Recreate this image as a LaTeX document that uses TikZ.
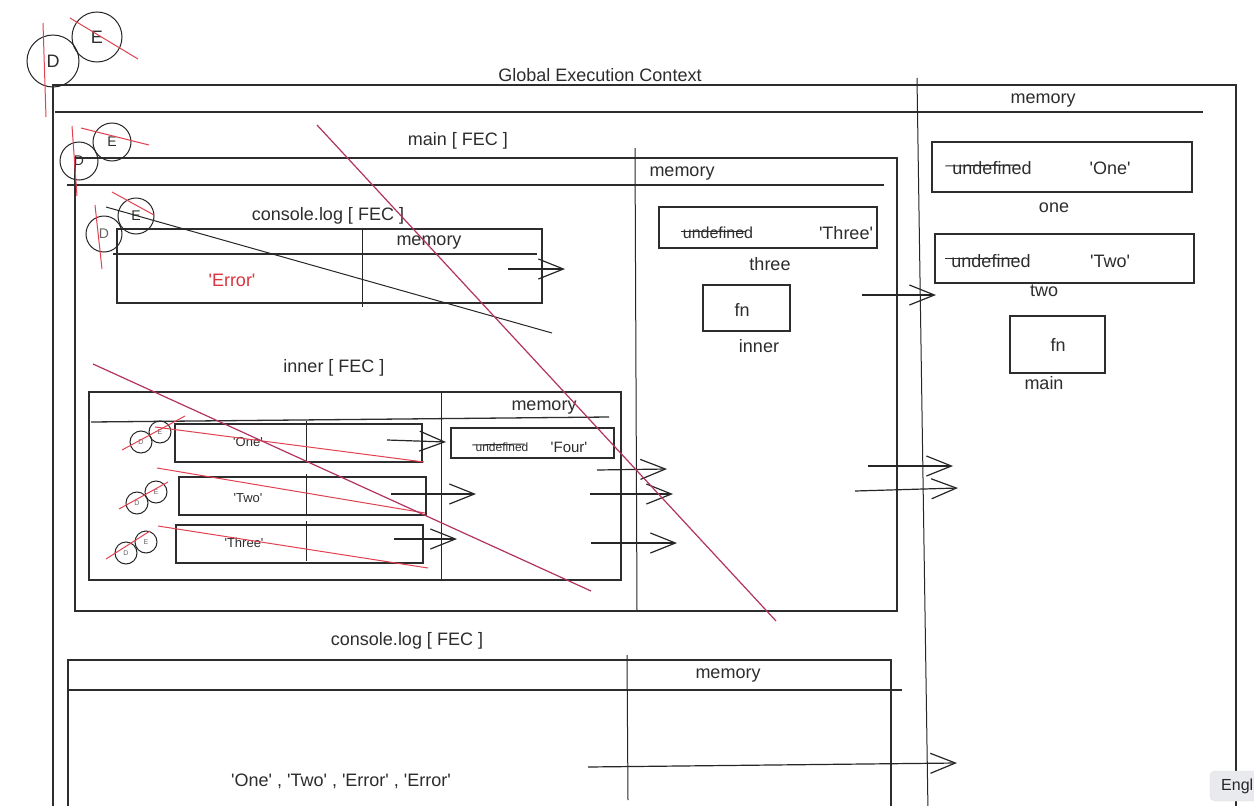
\documentclass[tikz,border=0pt]{standalone}
\usepackage{fontspec}
\setmainfont{Liberation Sans}[Ligatures=TeXOff]
\usetikzlibrary{arrows.meta}
\definecolor{ink}{RGB}{45,45,45}
\definecolor{redline}{RGB}{226,66,80}
\definecolor{crimson}{RGB}{178,50,98}
\definecolor{errred}{RGB}{218,52,62}
\definecolor{btn}{RGB}{232,234,237}
\newcommand\sizept[1]{\fontsize{#1}{#1}\selectfont}
\tikzset{
  box/.style={draw=ink,line width=1.3pt},
  rule/.style={draw=black!85,line width=1pt},
  lbl/.style={inner sep=0pt,text=ink,font=\sizept{18}},
  small/.style={inner sep=0pt,text=ink,font=\sizept{13}},
  dec/.style={circle,draw=black!85,line width=1pt,inner sep=0pt,text=ink},
  redstroke/.style={draw=redline,line width=1pt},
  crim/.style={draw=crimson,line width=1.2pt},
  barrow/.style={draw=black!85,line width=1.2pt,-{Straight Barb[length=25pt,width=20pt,line width=1.2pt]}},
  strike/.style={draw=ink,line width=1pt}
}
\begin{document}
\begin{tikzpicture}[x=1pt,y=-1pt]
\useasboundingbox (0,0) rectangle (1254,806);
\clip (0,0) rectangle (1254,806);
\fill[white] (0,0) rectangle (1254,806);

% ---------- Global Execution Context ----------
\draw[box] (53,812) -- (53,85) -- (1236,85) -- (1236,812);
\draw[box] (55,112) -- (1203,112);
\draw[rule] (917,78) -- (928,812);
\node[lbl] (gec) at (600,75) {Global Execution Context};
\node[lbl] (gmem) at (1043,101) {memory};

\node[dec,minimum size=52pt,font=\sizept{18}] (gD) at (53,61) {D};
\node[dec,minimum size=50pt,font=\sizept{18}] (gE) at (97,37) {E};
\draw[redstroke] (43,23) -- (46,117);
\draw[redstroke] (70,18) -- (138,59);

% global memory
\draw[box] (932,142) rectangle (1192,192);
\node[lbl] (gu1) at (992,168) {undefined};
\draw[strike] ([xshift=-7pt,yshift=2pt]gu1.west) -- ([xshift=-12pt,yshift=3pt]gu1.east);
\node[lbl] (gv1) at (1110,168) {'One'};
\node[lbl] (gn1) at (1054,208) {one};

\draw[box] (935,234) rectangle (1194,283);
\node[lbl] (gu2) at (991,261) {undefined};
\draw[strike] ([xshift=-6pt,yshift=3pt]gu2.west) -- ([xshift=-12pt,yshift=3pt]gu2.east);
\node[lbl] (gv2) at (1110,261) {'Two'};
\node[lbl] (gn2) at (1044,291) {two};

\draw[box] (1010,316) rectangle (1105,373);
\node[lbl] (gfn) at (1058,345) {fn};
\node[lbl] (gmain) at (1044,383) {main};

% ---------- main [ FEC ] ----------
\draw[box] (75,158) rectangle (897,611);
\draw[box] (67,185) -- (884,185);
\draw[rule] (635,148) -- (637,611);
\node[lbl] (mt) at (458,141) {main [ FEC ]};
\node[lbl] (mmem) at (682,174) {memory};

\node[dec,minimum size=38pt,font=\sizept{14}] (mD) at (79,161) {D};
\node[dec,minimum size=38pt,font=\sizept{14}] (mE) at (112,142) {E};
\draw[redstroke] (72,126) -- (77,196);
\draw[redstroke] (81,128) -- (149,145);

% main memory
\draw[box] (659,207) rectangle (877,248);
\node[inner sep=0pt,text=ink,font=\sizept{16}] (mu) at (718,233) {undefined};
\draw[strike] ([xshift=-2pt,yshift=2pt]mu.west) -- ([xshift=-8pt,yshift=2pt]mu.east);
\node[lbl] (mv) at (846,233) {'Three'};
\node[lbl] (mn) at (770,264) {three};
\draw[box] (703,285) rectangle (790,331);
\node[lbl] (mfn) at (742,310) {fn};
\node[lbl] (minner) at (759,346) {inner};

% ---------- console.log [ FEC ] (inside main) ----------
\node[lbl] (ct) at (328,216) {console.log [ FEC ]};
\draw[box] (117,229) rectangle (542,303);
\draw[box] (113,254) -- (537,254);
\draw[rule] (362,229) -- (362,307);
\node[lbl] (cmem) at (429,243) {memory};
\node[inner sep=0pt,text=errred,font=\sizept{18}] (cerr) at (232,280) {'Error'};
\node[dec,minimum size=36pt,font=\sizept{14},text=black!60] (cD) at (104,234) {D};
\node[dec,minimum size=36pt,font=\sizept{14}] (cE) at (136,216) {E};
\draw[redstroke] (95,205) -- (102,269);
\draw[redstroke] (112,192) -- (154,215);
\draw[rule] (106,207) -- (552,333);
\coordinate (ca1) at (508,269); \coordinate (ca2) at (565,269);
\draw[barrow] (ca1) -- (ca2);

% ---------- inner [ FEC ] ----------
\node[lbl] (it) at (334,368) {inner [ FEC ]};
\draw[box] (89,392) rectangle (621,580);
\draw[box] (91,422) -- (609,417);
\draw[rule] (441,392) -- (441,580);
\node[lbl] (imem) at (544,408) {memory};
\draw[box] (451,428) rectangle (614,458);
\node[inner sep=0pt,text=ink,font=\sizept{12}] (iu) at (502,447) {undefined};
\draw[strike] ([xshift=-3pt,yshift=2pt]iu.west) -- ([xshift=-4pt,yshift=3pt]iu.east);
\node[inner sep=0pt,text=ink,font=\sizept{15}] (iv) at (569,447) {'Four'};

% rows
\draw[box] (175,424) rectangle (422,462);
\draw[rule] (306,421) -- (306,462);
\node[small] (r1) at (248,442) {'One'};
\draw[box] (179,477) rectangle (426,515);
\draw[rule] (306,474) -- (306,515);
\node[small] (r2) at (248,498) {'Two'};
\draw[box] (176,525) rectangle (423,563);
\draw[rule] (306,521) -- (306,561);
\node[small] (r3) at (244,543) {'Three'};

\node[dec,minimum size=22pt,font=\sizept{7},text=black!60] (r1D) at (141,442) {D};
\node[dec,minimum size=22pt,font=\sizept{7},text=black!60] (r1E) at (160,432) {E};
\draw[redstroke] (122,450) -- (185,416);
\node[dec,minimum size=22pt,font=\sizept{7},text=black!60] (r2D) at (137,503) {D};
\node[dec,minimum size=22pt,font=\sizept{7},text=black!60] (r2E) at (156,492) {E};
\draw[redstroke] (119,509) -- (168,482);
\node[dec,minimum size=22pt,font=\sizept{7},text=black!60] (r3D) at (126,553) {D};
\node[dec,minimum size=22pt,font=\sizept{7},text=black!60] (r3E) at (146,542) {E};
\draw[redstroke] (106,559) -- (150,531);

\draw[redstroke] (155,427) -- (424,462);
\draw[redstroke] (157,468) -- (425,513);
\draw[redstroke] (158,526) -- (428,568);

\coordinate (ra1) at (387,440); \coordinate (ra2) at (446,442);
\draw[barrow] (ra1) -- (ra2);
\coordinate (rb1) at (391,494); \coordinate (rb2) at (476,494);
\draw[barrow] (rb1) -- (rb2);
\coordinate (rc1) at (394,539); \coordinate (rc2) at (457,539);
\draw[barrow] (rc1) -- (rc2);

% arrows into main memory / global memory
\coordinate (aa1) at (597,470); \coordinate (aa2) at (667,469);
\draw[barrow] (aa1) -- (aa2);
\coordinate (ab1) at (590,494); \coordinate (ab2) at (673,494);
\draw[barrow] (ab1) -- (ab2);
\coordinate (ac1) at (591,543); \coordinate (ac2) at (677,543);
\draw[barrow] (ac1) -- (ac2);
\coordinate (ad1) at (868,466); \coordinate (ad2) at (953,466);
\draw[barrow] (ad1) -- (ad2);
\coordinate (ae1) at (855,491); \coordinate (ae2) at (958,488);
\draw[barrow] (ae1) -- (ae2);
\coordinate (af1) at (862,295); \coordinate (af2) at (936,295);
\draw[barrow] (af1) -- (af2);

% crimson diagonals
\draw[crim] (317,125) -- (776,621);
\draw[crim] (93,364) -- (591,591);

% ---------- console.log [ FEC ] (bottom) ----------
\node[lbl] (bt) at (407,641) {console.log [ FEC ]};
\draw[box] (68,812) -- (68,660) -- (891,660) -- (891,812);
\draw[box] (68,690) -- (902,690);
\draw[rule] (627,655) -- (628,800);
\node[lbl] (bmem) at (728,676) {memory};
\node[lbl] (bout) at (341,781) {'One' , 'Two' , 'Error' , 'Error'};
\coordinate (bg1) at (588,767); \coordinate (bg2) at (957,763);
\draw[barrow] (bg1) -- (bg2);

% language button
\draw[fill=btn,draw=black!12,rounded corners=5pt] (1210,771) rectangle (1290,801);
\node[inner sep=0pt,anchor=west,font=\sizept{16},text=black!85] (lang) at (1221,786) {Engl};
\end{tikzpicture}
\end{document}
